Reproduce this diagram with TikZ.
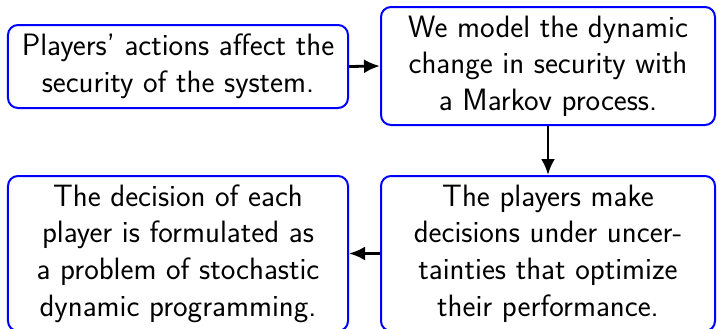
\documentclass[tikz,border=0pt]{standalone}
\usetikzlibrary{arrows.meta}
\begin{document}
\begin{tikzpicture}[x=1bp,y=-1bp,
  stepbox/.style={draw=blue, line width=2bp, rounded corners=10bp,
    inner sep=0pt, align=center,
    font=\sffamily\fontsize{31}{36.7}\selectfont},
  flow/.style={line width=2.8bp, -{Latex[length=16bp,width=14bp]}}]
  \useasboundingbox (0,0) rectangle (717,328);
  \begin{scope}
  \clip (0,0) rectangle (717,328);
  \node[stepbox, minimum width=340bp, minimum height=83bp] (A) at (178,66.5)
    {Players' actions affect the\\security of the system.};
  \node[stepbox, minimum width=334bp, minimum height=118bp] (B) at (548,66)
    {We model the dynamic\\change in security with\\a Markov process.};
  \node[stepbox, minimum width=334bp, minimum height=155bp] (C) at (548,253.5)
    {The players make\\decisions under uncer-\\tainties that optimize\\their performance.};
  \node[stepbox, minimum width=340bp, minimum height=155bp] (D) at (178,253.5)
    {The decision of each\\player is formulated as\\a problem of stochastic\\dynamic programming.};
  \end{scope}
  \draw[flow] (A.east) -- (B.west);
  \draw[flow] (B.south) -- (C.north);
  \draw[flow] (C.west) -- (D.east);
\end{tikzpicture}
\end{document}
